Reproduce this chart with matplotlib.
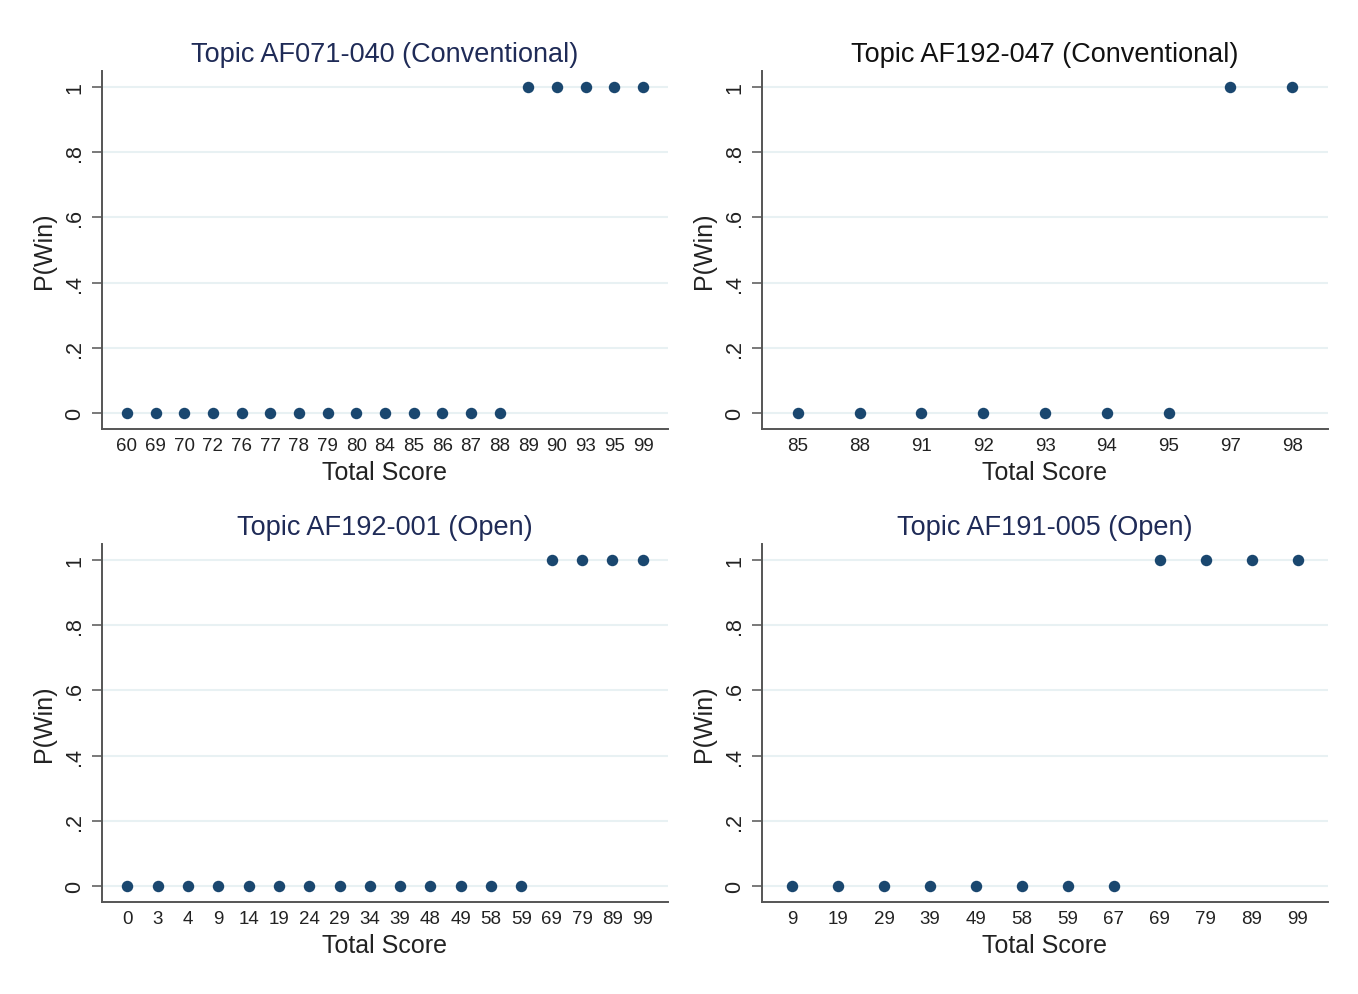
import matplotlib.pyplot as plt
import numpy as np

plt.rcParams['font.family'] = ['Liberation Sans', 'DejaVu Sans']

# panel data: score categories and P(Win)
titles = ['Topic AF071-040 (Conventional)', 'Topic AF192-047 (Conventional)',
          'Topic AF192-001 (Open)', 'Topic AF191-005 (Open)']
title_colors = ['#1f2b57', '#111111', '#1f2b57', '#1f2b57']

scores_1 = [60, 69, 70, 72, 76, 77, 78, 79, 80, 84, 85, 86, 87, 88, 89, 90, 93, 95, 99]
win_1 = [0] * 14 + [1] * 5
scores_2 = [85, 88, 91, 92, 93, 94, 95, 97, 98]
win_2 = [0] * 7 + [1] * 2
scores_3 = [0, 3, 4, 9, 14, 19, 24, 29, 34, 39, 48, 49, 58, 59, 69, 79, 89, 99]
win_3 = [0] * 14 + [1] * 4
scores_4 = [9, 19, 29, 39, 49, 58, 59, 67, 69, 79, 89, 99]
win_4 = [0] * 8 + [1] * 4

yticks = [0, 0.2, 0.4, 0.6, 0.8, 1]
ytick_labels = ['0', '.2', '.4', '.6', '.8', '1']

panels = [(scores_1, win_1), (scores_2, win_2), (scores_3, win_3), (scores_4, win_4)]
xpads = [0.87, 0.58, 0.83, 0.66]

W, H = 1358, 995
fig = plt.figure(figsize=(W / 100, H / 100), dpi=100)
boxes = [(102, 72), (762, 72), (102, 545), (762, 545)]
aw, ah = 566, 358

for i, (scores, win) in enumerate(panels):
    x0, y0 = boxes[i]
    ax = fig.add_axes([x0 / W, 1 - (y0 + ah) / H, aw / W, ah / H])
    x = np.arange(len(scores))
    ax.scatter(x, win, s=68, color='#1a476f', zorder=3, linewidths=0)
    ax.set_xticks(x)
    ax.set_xticklabels([str(s) for s in scores], fontsize=13.5, color='#222222')
    ax.set_xlim(-xpads[i], len(scores) - 1 + xpads[i])
    ax.set_ylim(-0.049, 1.049)
    ax.set_yticks(yticks)
    ax.set_yticklabels(ytick_labels, fontsize=15.5, rotation=90, va='center', color='#222222')
    ax.yaxis.grid(True, color='#e8f1f3', linewidth=1.5)
    ax.set_axisbelow(True)
    for side in ['top', 'right']:
        ax.spines[side].set_visible(False)
    for side in ['left', 'bottom']:
        ax.spines[side].set_color('#555555')
        ax.spines[side].set_linewidth(1.4)
    ax.tick_params(axis='y', length=7, width=1.1, color='#555555', pad=5)
    ax.tick_params(axis='x', length=0, pad=6)
    ax.set_xlabel('Total Score', fontsize=18, labelpad=4, color='#222222')
    ax.set_ylabel('P(Win)', fontsize=18, labelpad=6, color='#222222')
    ax.set_title(titles[i], fontsize=19.5, color=title_colors[i], pad=7)

fig.savefig('out.png', dpi=100)
